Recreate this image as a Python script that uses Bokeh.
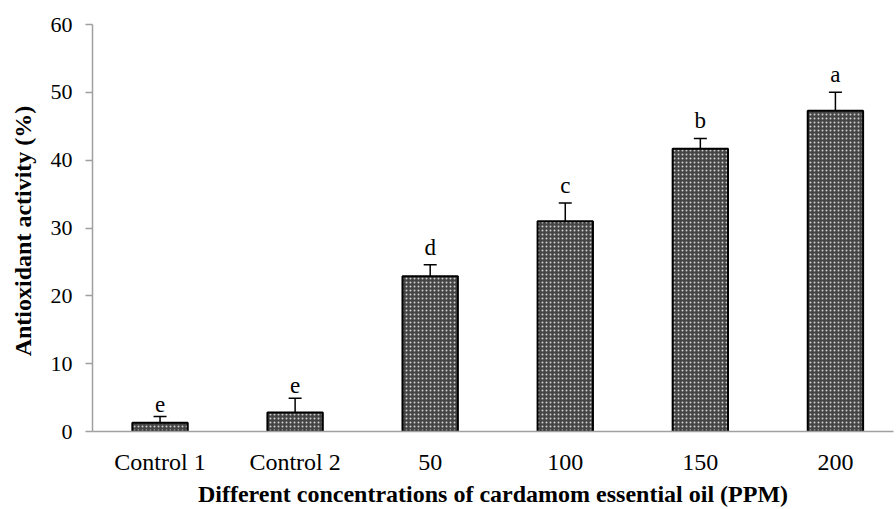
from bokeh.plotting import figure
from bokeh.models import ColumnDataSource, Range1d, FixedTicker, Whisker, TeeHead
from bokeh.core.properties import value
from bokeh.embed import file_html
from bokeh.resources import INLINE

categories = ["Control 1", "Control 2", "50", "100", "150", "200"]
means = [1.3, 2.8, 22.9, 31.0, 41.7, 47.3]
errors = [0.9, 2.1, 1.7, 2.7, 1.5, 2.7]
letters = ["e", "e", "d", "c", "b", "a"]

xs = list(range(len(categories)))
src = ColumnDataSource(dict(
    x=xs, top=means,
    upper=[m + e for m, e in zip(means, errors)],
    lower=[m - e for m, e in zip(means, errors)],
    letter=letters,
))

SERIF = "Liberation Serif"

p = figure(width=896, height=509, output_backend="svg", toolbar_location=None,
           x_range=Range1d(-0.5, 5.43), y_range=Range1d(0, 60),
           min_border_left=92, min_border_right=3, min_border_top=24, min_border_bottom=76)
p.outline_line_color = None
p.grid.grid_line_color = None
p.background_fill_color = "white"
p.border_fill_color = "white"

p.vbar(x="x", top="top", width=0.41, bottom=0, source=src,
       fill_color="#444444", line_color="black", line_width=2,
       hatch_pattern="dot", hatch_color="#cfcfcf", hatch_scale=4, hatch_weight=2)

wh = Whisker(base="x", upper="upper", lower="lower", source=src,
             line_color="black", line_width=1.5,
             upper_head=TeeHead(size=13, line_color="black", line_width=1.5),
             lower_head=TeeHead(size=13, line_color="black", line_width=1.5))
p.add_layout(wh)

p.text(x="x", y="upper", text="letter", source=src, text_align="center",
       text_baseline="bottom", y_offset=-5, text_font=value(SERIF),
       text_font_size="23px", text_color="black")

# x axis
p.xaxis.ticker = FixedTicker(ticks=xs)
p.xaxis.major_label_overrides = {i: c for i, c in enumerate(categories)}
p.xaxis.major_tick_line_color = None
p.xaxis.minor_tick_line_color = None
p.xaxis.axis_line_color = "#a0a0a0"
p.xaxis.axis_line_width = 1.5
p.xaxis.major_label_standoff = 11
p.xaxis.major_label_text_font = SERIF
p.xaxis.major_label_text_font_size = "24px"
p.xaxis.major_label_text_color = "black"
p.xaxis.axis_label = "Different concentrations of cardamom essential oil (PPM)"
p.xaxis.axis_label_text_font = SERIF
p.xaxis.axis_label_text_font_style = "bold"
p.xaxis.axis_label_text_font_size = "24px"
p.xaxis.axis_label_text_color = "black"
p.xaxis.axis_label_standoff = 3

# y axis
p.yaxis.ticker = FixedTicker(ticks=[0, 10, 20, 30, 40, 50, 60])
p.yaxis.minor_tick_line_color = None
p.yaxis.major_tick_in = 0
p.yaxis.major_tick_out = 7
p.yaxis.major_tick_line_color = "#a0a0a0"
p.yaxis.major_tick_line_width = 1.5
p.yaxis.axis_line_color = "#a0a0a0"
p.yaxis.axis_line_width = 1.5
p.yaxis.major_label_standoff = 13
p.yaxis.major_label_text_font = SERIF
p.yaxis.major_label_text_font_size = "22px"
p.yaxis.major_label_text_color = "black"
p.yaxis.axis_label = "Antioxidant  activity (%)"
p.yaxis.axis_label_text_font = SERIF
p.yaxis.axis_label_text_font_style = "bold"
p.yaxis.axis_label_text_font_size = "24px"
p.yaxis.axis_label_text_color = "black"
p.yaxis.axis_label_standoff = 12

open("out.html", "w").write(file_html(p, INLINE))
